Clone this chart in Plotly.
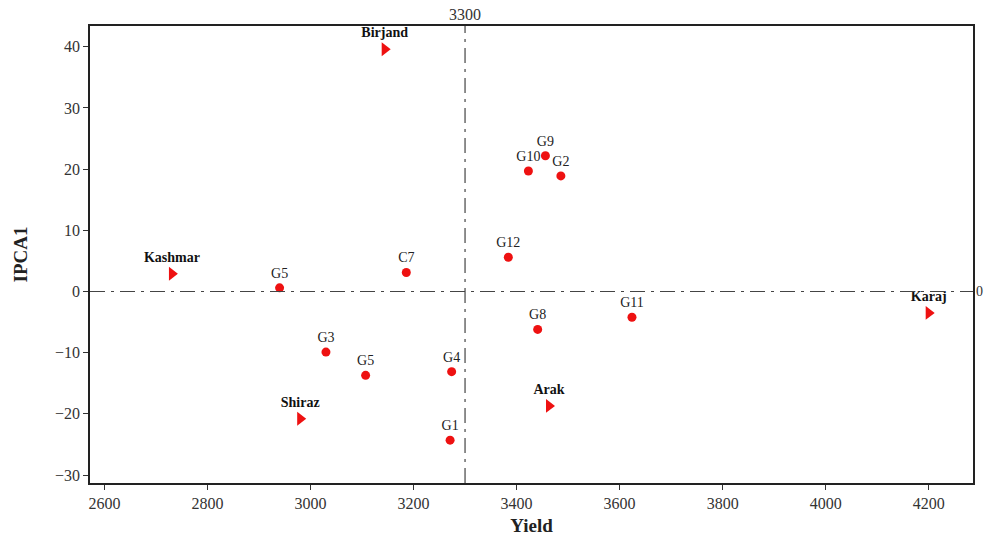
import plotly.graph_objects as go

# Genotypes
gen_names = ["G1", "G2", "G3", "G4", "G5", "G5", "C7", "G8", "G9", "G10", "G11", "G12"]
gen_yield = [3271, 3486, 3030, 3274, 2940, 3107, 3186, 3441, 3456, 3423, 3624, 3384]
gen_ipca1 = [-24.3, 18.9, -9.9, -13.1, 0.6, -13.7, 3.1, -6.2, 22.2, 19.7, -4.2, 5.6]

# Environments
env_names = ["Birjand", "Kashmar", "Shiraz", "Arak", "Karaj"]
env_yield = [3144, 2731, 2980, 3463, 4200]
env_ipca1 = [39.6, 2.9, -20.8, -18.7, -3.5]

mean_yield = 3300
x_ticks = [2600, 2800, 3000, 3200, 3400, 3600, 3800, 4000, 4200]
y_ticks = [-30, -20, -10, 0, 10, 20, 30, 40]

SERIF = "Liberation Serif, Times New Roman, serif"
RED = "#ee1111"

fig = go.Figure()
fig.add_trace(go.Scatter(
    x=gen_yield, y=gen_ipca1, mode="markers+text", text=gen_names,
    textposition="top center", cliponaxis=False,
    textfont=dict(family=SERIF, size=14, color="#222"),
    marker=dict(symbol="circle", size=9, color=RED), showlegend=False))
fig.add_trace(go.Scatter(
    x=env_yield, y=env_ipca1, mode="markers+text",
    text=["<b>%s</b>" % n for n in env_names],
    textposition="top center", cliponaxis=False,
    textfont=dict(family=SERIF, size=14, color="#111"),
    marker=dict(symbol="triangle-right", size=12, color=RED), showlegend=False))

fig.add_shape(type="line", xref="x", yref="paper", x0=mean_yield, x1=mean_yield,
              y0=0, y1=1, line=dict(color="#444", width=1.2, dash="longdashdot"))
fig.add_shape(type="line", xref="paper", yref="y", x0=0, x1=1, y0=0, y1=0,
              line=dict(color="#444", width=1.2, dash="longdashdot"))
fig.add_annotation(x=mean_yield, xref="x", y=1, yref="paper", yanchor="bottom",
                   text=str(mean_yield), showarrow=False, yshift=1,
                   font=dict(family=SERIF, size=16, color="#333"))
fig.add_annotation(x=1, xref="paper", y=0, yref="y", xanchor="left",
                   text="0", showarrow=False, xshift=1,
                   font=dict(family=SERIF, size=14, color="#333"))

fig.update_layout(
    width=986, height=537,
    margin=dict(l=90, r=13, t=26, b=54),
    paper_bgcolor="white", plot_bgcolor="white",
    font=dict(family=SERIF, color="#333"),
    xaxis=dict(range=[2572, 4286], tickvals=x_ticks, ticks="outside", ticklen=5,
               tickcolor="#333", showline=True, linecolor="#222", linewidth=1.5,
               mirror=True, showgrid=False, zeroline=False, automargin=False,
               tickfont=dict(family=SERIF, size=16, color="#333"),
               title=dict(text="<b>Yield</b>", font=dict(family=SERIF, size=19, color="#222"),
                          standoff=8)),
    yaxis=dict(range=[-31.3, 43.4], tickvals=y_ticks, ticks="outside", ticklen=5,
               tickcolor="#333", showline=True, linecolor="#222", linewidth=1.5,
               mirror=True, showgrid=False, zeroline=False, automargin=False,
               tickfont=dict(family=SERIF, size=16, color="#333"),
               title=dict(text="<b>IPCA1</b>", font=dict(family=SERIF, size=19, color="#222"),
                          standoff=22)),
)

fig.write_html("out.html", config={"displayModeBar": False},
               post_script="document.body.style.margin='0';document.body.style.overflow='hidden';")
